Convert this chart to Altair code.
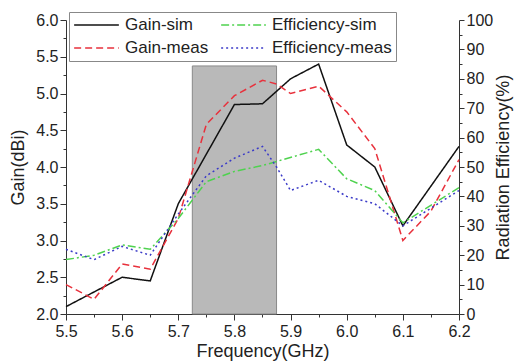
import altair as alt
import pandas as pd

# ---- data ----
gs_freq = [5.5, 5.6, 5.65, 5.7, 5.8, 5.85, 5.9, 5.95, 6.0, 6.05, 6.1, 6.2]
gs_gain = [2.1, 2.5, 2.45, 3.5, 4.85, 4.86, 5.2, 5.4, 4.3, 4.0, 3.2, 4.28]

gm_freq = [5.5, 5.55, 5.6, 5.65, 5.7, 5.75, 5.8, 5.85, 5.875, 5.9, 5.95, 6.0, 6.05, 6.1, 6.15, 6.2]
gm_gain = [2.4, 2.2, 2.68, 2.61, 3.3, 4.58, 4.97, 5.18, 5.13, 5.0, 5.1, 4.75, 4.25, 3.0, 3.4, 4.1]

es_freq = [5.5, 5.55, 5.6, 5.65, 5.7, 5.75, 5.8, 5.85, 5.95, 6.0, 6.05, 6.1, 6.2]
es_eff = [18.5, 20, 23.5, 22, 32.5, 45, 48.5, 50.5, 56, 46, 42, 31, 43]

em_freq = [5.5, 5.55, 5.6, 5.65, 5.7, 5.75, 5.8, 5.85, 5.875, 5.9, 5.95, 6.0, 6.05, 6.1, 6.2]
em_eff = [22, 18.5, 23, 20, 34, 47, 53, 57, 50, 42, 45.5, 40, 37.5, 30, 42]

band_start = [5.725]
band_end = [5.875]
band_bottom = [2.0]
band_top = [5.375]

# legend is filled column by column: column 1 = gain, column 2 = efficiency
series_names = ["Gain-sim", "Gain-meas", "Efficiency-sim", "Efficiency-meas"]
series_colors = ["#111111", "#e8313c", "#4fd24f", "#3b3bc8"]
series_dashes = [[1, 0], [7, 4], [8, 3, 2, 3], [2, 3]]

x_ticks = [5.5, 5.55, 5.6, 5.65, 5.7, 5.75, 5.8, 5.85, 5.9, 5.95, 6.0, 6.05, 6.1, 6.15, 6.2]
gain_ticks = [2.0, 2.25, 2.5, 2.75, 3.0, 3.25, 3.5, 3.75, 4.0, 4.25, 4.5, 4.75,
              5.0, 5.25, 5.5, 5.75, 6.0]
eff_ticks = [0, 5, 10, 15, 20, 25, 30, 35, 40, 45, 50, 55, 60, 65, 70, 75, 80, 85, 90, 95, 100]

gain_df = pd.concat([
    pd.DataFrame({"freq": gs_freq, "val": gs_gain, "series": "Gain-sim"}),
    pd.DataFrame({"freq": gm_freq, "val": gm_gain, "series": "Gain-meas"}),
])
eff_df = pd.concat([
    pd.DataFrame({"freq": es_freq, "val": es_eff, "series": "Efficiency-sim"}),
    pd.DataFrame({"freq": em_freq, "val": em_eff, "series": "Efficiency-meas"}),
])
band_df = pd.DataFrame({"x1": band_start, "x2": band_end, "y1": band_bottom, "y2": band_top})

FONT = "Liberation Sans"

x_axis = alt.Axis(
    title="Frequency(GHz)", values=x_ticks,
    labelExpr="round(datum.value*100) % 10 == 0 ? format(datum.value, '.1f') : ''",
    tickSize={"condition": {"test": "round(datum.value*100) % 10 != 0", "value": 3}, "value": 6},
    labelPadding=3, titlePadding=3,
)
x_scale = alt.Scale(domain=[5.5, 6.2], nice=False, zero=False)

gain_axis = alt.Axis(
    title="Gain(dBi)", values=gain_ticks, orient="left",
    labelExpr="round(datum.value*100) % 50 == 0 ? format(datum.value, '.1f') : ''",
    tickSize={"condition": {"test": "round(datum.value*100) % 50 != 0", "value": 3}, "value": 6},
    labelPadding=2, titlePadding=8,
)
gain_scale = alt.Scale(domain=[2, 6], nice=False, zero=False)

eff_axis = alt.Axis(
    title="Radiation Efficiency(%)", values=eff_ticks, orient="right",
    labelExpr="datum.value % 10 == 0 ? format(datum.value, 'd') : ''",
    tickSize={"condition": {"test": "datum.value % 10 != 0", "value": 3}, "value": 5},
    labelPadding=2, titlePadding=2, titleAngle=270, titleBaseline="top",
)
eff_scale = alt.Scale(domain=[0, 100], nice=False, zero=False)

color_enc = alt.Color("series:N", title=None,
                      scale=alt.Scale(domain=series_names, range=series_colors))
dash_enc = alt.StrokeDash("series:N", title=None,
                          scale=alt.Scale(domain=series_names, range=series_dashes))

band = alt.Chart(band_df).mark_rect(color="#b9b9b9", stroke="#8a8a8a", strokeWidth=1).encode(
    x=alt.X("x1:Q", scale=x_scale, axis=x_axis),
    x2="x2:Q",
    y=alt.Y("y1:Q", scale=gain_scale, axis=gain_axis),
    y2="y2:Q",
)

gain_lines = alt.Chart(gain_df).mark_line(strokeWidth=1.5).encode(
    x=alt.X("freq:Q", scale=x_scale, axis=x_axis),
    y=alt.Y("val:Q", scale=gain_scale, axis=gain_axis),
    color=color_enc, strokeDash=dash_enc,
    order="freq:Q",
)

eff_lines = alt.Chart(eff_df).mark_line(strokeWidth=1.5).encode(
    x=alt.X("freq:Q", scale=x_scale, axis=x_axis),
    y=alt.Y("val:Q", scale=eff_scale, axis=eff_axis),
    color=color_enc, strokeDash=dash_enc,
    order="freq:Q",
)

gain_group = alt.layer(band, gain_lines)

chart = alt.layer(gain_group, eff_lines).resolve_scale(y="independent").properties(
    width=393, height=294,
    autosize=alt.AutoSizeParams(type="none"),
    padding={"left": 66, "top": 20, "right": 55, "bottom": 48},
    background="white",
).configure_view(stroke=None).configure_axis(
    labelFont=FONT, titleFont=FONT, labelFontSize=16, titleFontSize=18,
    titleFontWeight="normal", labelColor="#222222", titleColor="#222222",
    domainColor="#333333", tickColor="#333333", grid=False,
    labelFlush=False, labelOverlap=False,
).configure_legend(
    orient="none", legendX=3, legendY=-8, columns=2, columnPadding=11,
    rowPadding=5, padding=4, strokeColor="#888888", fillColor="white",
    labelFont=FONT, labelFontSize=17, labelColor="#222222",
    symbolType="stroke", symbolSize=2000, symbolStrokeWidth=1.5, labelOffset=5,
    clipHeight=18,
)

chart.save("out.html", embed_options={"renderer": "svg", "actions": False})
